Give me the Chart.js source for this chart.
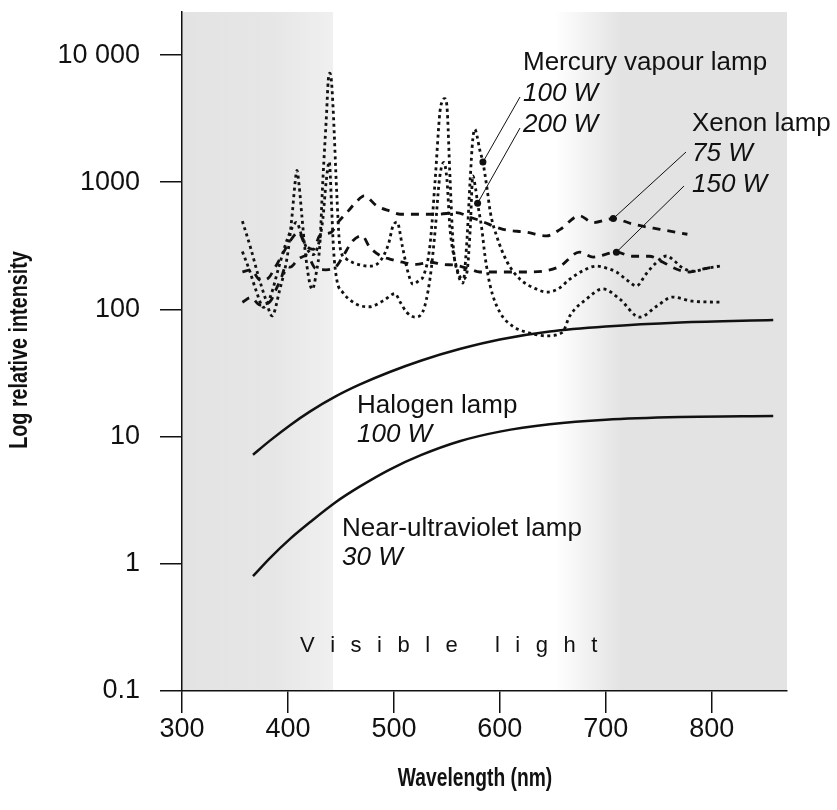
<!DOCTYPE html>
<html>
<head>
<meta charset="utf-8">
<script src="https://cdn.jsdelivr.net/npm/chart.js@4.4.0/dist/chart.umd.min.js"></script>
<style>
  html, body { margin: 0; padding: 0; background: #fff; }
  #wrap { width: 837px; height: 810px; }
</style>
</head>
<body>
<div id="wrap"><canvas id="lamps"></canvas></div>
<script>
/* Data (wavelength in nm, relative intensity) */
var hg100Nm = [357, 365, 372, 379, 385, 392, 400, 404, 406.5, 408.5, 410.5, 413, 416, 420, 423, 427, 430, 433, 436.5, 438, 439.6, 441, 442.7, 446, 449, 455, 461, 470, 477, 487, 495, 499, 503, 508, 513, 518, 524, 528, 534, 539, 543.4, 546, 548, 550, 553, 556, 560, 565, 568.6, 572, 574.5, 576.4, 578.5, 581, 584, 588, 591, 597, 607, 619, 635, 644, 655, 666, 680, 691, 700, 710, 720, 729, 738, 748, 757, 765, 770, 782, 795, 808];
var hg100Val = [495, 300, 184, 120, 89, 140, 282, 560, 950, 1240, 950, 560, 300, 170, 144, 200, 316, 1060, 3550, 6300, 7200, 6300, 3700, 840, 314, 250, 234, 222, 219, 240, 330, 450, 486, 314, 200, 158, 170, 184, 317, 1060, 3550, 4400, 4550, 4000, 1060, 314, 197, 161, 317, 1060, 2200, 2610, 2300, 1800, 1440, 880, 580, 377, 235, 173, 144, 137, 145, 173, 205, 219, 212, 197, 170, 153, 190, 235, 263, 240, 219, 200, 210, 219];

var hg200Nm = [357, 364, 370, 377, 384, 391, 398, 404, 408, 413, 418, 424, 429, 433, 436, 439, 441, 443, 446, 452, 459, 468, 477, 490, 501, 506, 512, 520, 527, 534, 539, 543, 547, 550, 553, 558, 562, 565, 569, 572, 574.5, 577, 579, 583, 586, 591, 600, 612, 626, 644, 659, 666, 682, 697, 713, 732, 748, 763, 782, 808];
var hg200Val = [285, 200, 140, 104, 130, 210, 330, 440, 483, 380, 300, 270, 330, 520, 1000, 1450, 700, 300, 173, 135, 118, 107, 105, 117, 133, 114, 95, 87, 95, 173, 425, 1060, 1430, 1060, 425, 235, 183, 173, 197, 425, 1120, 900, 685, 427, 262, 152, 95, 74, 66, 62, 66, 89, 121, 145, 121, 87, 106, 125, 116, 114];

var xe75Nm = [357, 365, 374, 381, 388, 396, 402, 410, 416, 424, 430, 441, 447, 457, 465, 472, 484, 496, 506, 521, 540, 559, 572, 581, 603, 625, 644, 657, 675, 688, 707, 725, 751, 777];
var xe75Val = [197, 205, 170, 175, 215, 283, 345, 405, 325, 297, 380, 405, 481, 595, 710, 780, 650, 595, 560, 560, 560, 576, 530, 500, 426, 405, 379, 426, 545, 481, 518, 470, 426, 390];

var xe150Nm = [357, 365, 374, 384, 389, 394, 398, 402, 410, 418, 426, 436, 446, 452, 461, 470, 477, 487, 496, 508, 521, 534, 546, 559, 572, 581, 603, 625, 641, 657, 675, 688, 710, 725, 741, 754, 767, 779, 791, 806];
var xe150Val = [114, 124, 108, 118, 145, 180, 220, 215, 250, 265, 210, 205, 220, 262, 345, 380, 310, 265, 249, 235, 226, 235, 226, 222, 207, 197, 197, 197, 200, 219, 282, 258, 282, 262, 262, 235, 207, 197, 207, 219];

var halogenNm = [367, 383, 402, 421, 445, 468, 496, 526, 562, 600, 647, 700, 770, 858];
var halogenVal = [7.2, 9.3, 12.3, 15.8, 20.7, 25.7, 32.2, 39.7, 48.8, 58, 67, 73.4, 79, 82.6];

var nuvNm = [367, 383, 402, 421, 445, 468, 496, 526, 562, 600, 647, 700, 770, 858];
var nuvVal = [0.8, 1.11, 1.57, 2.13, 3.05, 4.06, 5.51, 7.18, 9.2, 10.95, 12.5, 13.6, 14.26, 14.5];

var xTicks = [300, 400, 500, 600, 700, 800];
var yTicks = [0.1, 1, 10, 100, 1000, 10000];

function pts(xs, ys) {
	return xs.map(function (x, i) {
		return { x: x, y: ys[i] };
	});
}

var FONT = "'Liberation Sans', Arial, Helvetica, sans-serif";
var INK = "#111";

/* grey bands outside the visible range */
var shading = {
	id: "shading",
	beforeDraw: function (chart) {
		var a = chart.chartArea, xs = chart.scales.x, ctx = chart.ctx;
		var w = a.right - a.left;
		function f(nm) {
			return Math.min(1, Math.max(0, (xs.getPixelForValue(nm) - a.left) / w));
		}
		var g = ctx.createLinearGradient(a.left, 0, a.right, 0);
		g.addColorStop(0, "#e3e3e3");
		g.addColorStop(f(385), "#e6e6e6");
		g.addColorStop(f(442.5), "#f0f0f0");
		g.addColorStop(f(443), "#ffffff");
		g.addColorStop(f(652), "#ffffff");
		g.addColorStop(f(715), "#e3e3e3");
		g.addColorStop(1, "#e3e3e3");
		ctx.save();
		ctx.fillStyle = g;
		ctx.fillRect(a.left, a.top, w, a.bottom - a.top);
		ctx.restore();
	}
};

/* labels, leader lines and the spaced "Visible light" */
var notes = {
	id: "notes",
	afterDatasetsDraw: function (chart) {
		var ctx = chart.ctx;
		ctx.save();
		ctx.fillStyle = INK;
		ctx.textBaseline = "alphabetic";

		function txt(s, x, y, italic) {
			ctx.font = (italic ? "italic " : "") + "26px " + FONT;
			ctx.fillText(s, x, y);
		}
		txt("Mercury vapour lamp", 523, 70);
		txt("100 W", 523, 101, true);
		txt("200 W", 523, 132, true);
		txt("Xenon lamp", 692, 131);
		txt("75 W", 692, 161, true);
		txt("150 W", 692, 192, true);
		txt("Halogen lamp", 357, 413);
		txt("100 W", 357, 442, true);
		txt("Near-ultraviolet lamp", 342, 536);
		txt("30 W", 342, 565, true);

		// leader lines to points on the curves
		function lead(ds, nm, x0, y0) {
			var meta = chart.getDatasetMeta(ds);
			var idx = chart.data.datasets[ds].data.findIndex(function (p) { return p.x === nm; });
			var p = meta.data[idx];
			ctx.strokeStyle = INK;
			ctx.lineWidth = 1;
			ctx.setLineDash([]);
			ctx.beginPath();
			ctx.moveTo(x0, y0);
			ctx.lineTo(p.x, p.y);
			ctx.stroke();
			ctx.beginPath();
			ctx.arc(p.x, p.y, 3.5, 0, Math.PI * 2);
			ctx.fill();
		}
		lead(0, 584, 520, 97);
		lead(1, 579, 520, 128);
		lead(2, 707, 686, 152);
		lead(3, 710, 684, 186);

		// Visible light, letter spaced
		ctx.font = "22px " + FONT;
		var s = "Visible light", x = 300;
		for (var i = 0; i < s.length; i++) {
			ctx.fillText(s[i], x, 652);
			x += ctx.measureText(s[i]).width + 15.5;
		}
		ctx.restore();
	}
};

/* axis titles in a condensed bold face */
var titles = {
	id: "titles",
	afterDraw: function (chart) {
		var ctx = chart.ctx;
		ctx.save();
		ctx.fillStyle = INK;
		ctx.font = "bold 25px " + FONT;
		ctx.textAlign = "center";
		ctx.textBaseline = "alphabetic";
		ctx.save();
		ctx.translate(475, 786);
		ctx.scale(0.77, 1);
		ctx.fillText("Wavelength (nm)", 0, 0);
		ctx.restore();
		ctx.save();
		ctx.translate(27, 350);
		ctx.rotate(-Math.PI / 2);
		ctx.scale(0.79, 1);
		ctx.fillText("Log relative intensity", 0, 0);
		ctx.restore();
		ctx.restore();
	}
};

var dotted = [3, 3.5];
var dashed = [8, 7];

function line(label, data, dash) {
	return {
		label: label,
		data: data,
		borderColor: INK,
		borderWidth: dash ? 2.8 : 2.5,
		borderDash: dash || [],
		borderCapStyle: "butt",
		pointRadius: 0,
		fill: false,
		cubicInterpolationMode: "monotone"
	};
}

var ctxLamps = document.getElementById("lamps");
var lampChart = new Chart(ctxLamps, {
	type: "line",
	data: {
		datasets: [
			line("Mercury vapour lamp 100 W", pts(hg100Nm, hg100Val), dotted),
			line("Mercury vapour lamp 200 W", pts(hg200Nm, hg200Val), dotted),
			line("Xenon lamp 75 W", pts(xe75Nm, xe75Val), dashed),
			line("Xenon lamp 150 W", pts(xe150Nm, xe150Val), dashed),
			line("Halogen lamp 100 W", pts(halogenNm, halogenVal)),
			line("Near-ultraviolet lamp 30 W", pts(nuvNm, nuvVal))
		]
	},
	options: {
		responsive: true,
		maintainAspectRatio: false,
		animation: false,
		layout: { padding: { top: 12, right: 50, left: 0, bottom: 0 } },
		plugins: {
			legend: { display: false },
			tooltip: { enabled: false }
		},
		scales: {
			x: {
				type: "linear",
				min: 300,
				max: 871,
				afterBuildTicks: function (s) {
					s.ticks = xTicks.map(function (v) { return { value: v }; });
				},
				afterFit: function (s) {
					s.height = 119;
					s.paddingLeft = 0;
					s.paddingRight = 0;
				},
				grid: { drawOnChartArea: false, color: INK, lineWidth: 1.5, tickLength: 22 },
				border: { color: INK, width: 1.5 },
				ticks: { color: INK, padding: 0, font: { family: FONT, size: 27 } },
				title: { display: false }
			},
			y: {
				type: "logarithmic",
				min: 0.1,
				max: 21800,
				afterBuildTicks: function (s) {
					s.ticks = yTicks.map(function (v) { return { value: v }; });
				},
				afterFit: function (s) {
					s.width = 182;
					s.paddingTop = 0;
					s.paddingBottom = 0;
				},
				grid: { drawOnChartArea: false, color: INK, lineWidth: 1.5, tickLength: 22 },
				border: { color: INK, width: 1.5 },
				ticks: {
					color: INK,
					padding: 20,
					font: { family: FONT, size: 27 },
					callback: function (v) { return v === 10000 ? "10 000" : String(v); }
				},
				title: { display: false }
			}
		}
	},
	plugins: [shading, notes, titles]
});
</script>
</body>
</html>
